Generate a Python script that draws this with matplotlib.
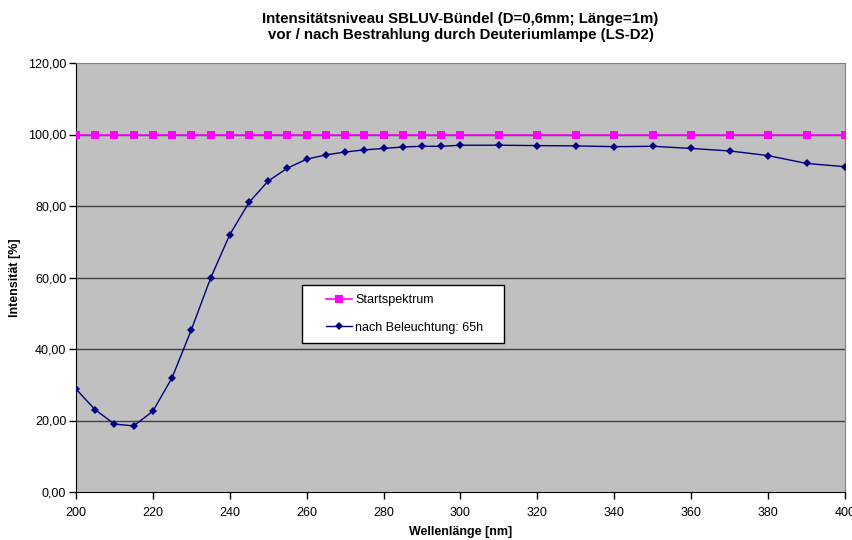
import numpy as np
import matplotlib.pyplot as plt
from matplotlib.patches import Rectangle
from matplotlib.ticker import FuncFormatter

plt.rcParams['font.family'] = ['Liberation Sans', 'DejaVu Sans']

# Daten
wellenlaenge = [200, 205, 210, 215, 220, 225, 230, 235, 240, 245, 250,
                255, 260, 265, 270, 275, 280, 285, 290, 295, 300,
                310, 320, 330, 340, 350, 360, 370, 380, 390, 400]
startspektrum = [100.0] * len(wellenlaenge)
nach_65h = [28.8, 23.0, 19.0, 18.5, 22.6, 32.0, 45.4, 59.8, 72.0, 81.0, 87.0,
            90.6, 93.1, 94.3, 95.1, 95.7, 96.1, 96.5, 96.7, 96.7, 97.0,
            97.0, 96.9, 96.8, 96.6, 96.7, 96.1, 95.4, 94.1, 91.9, 91.0]

fig = plt.figure(figsize=(8.53, 5.40), dpi=100)
ax = fig.add_axes([76/853, 1 - 492/540, 769/853, 429/540])
ax.set_facecolor('#C0C0C0')

for yv in range(20, 120, 20):
    ax.axhline(yv, color='#404040', lw=1.0, zorder=1)

ax.plot(wellenlaenge, startspektrum, color='#FF00FF', lw=1.2, marker='s',
        markersize=5.5, markeredgewidth=0, label='Startspektrum', zorder=3)
ax.plot(wellenlaenge, nach_65h, color='#000080', lw=1.0, marker='D',
        markersize=4.5, markeredgewidth=0, label='nach Beleuchtung: 65h', zorder=3)

ax.set_xlim(200, 400)
ax.set_ylim(0, 120)
ax.set_xticks(range(200, 401, 20))
ax.set_yticks(range(0, 121, 20))
ax.yaxis.set_major_formatter(FuncFormatter(lambda v, p: f'{v:.2f}'.replace('.', ',')))
ax.tick_params(labelsize=9, length=5, width=1, direction='out')
ax.tick_params(axis='x', pad=6)
ax.tick_params(axis='y', pad=2)

ax.spines['left'].set_color('black')
ax.spines['bottom'].set_color('black')
ax.spines['top'].set_color('#808080')
ax.spines['right'].set_color('#808080')

ax.set_xlabel('Wellenlänge [nm]', fontsize=9, fontweight='bold', labelpad=5)
ax.set_ylabel('Intensität [%]', fontsize=9, fontweight='bold', labelpad=5)

fig.text(0.5 * (76 + 845) / 853, 1 - 27/540,
         'Intensitätsniveau SBLUV-Bündel (D=0,6mm; Länge=1m)\n'
         'vor / nach Bestrahlung durch Deuteriumlampe (LS-D2)',
         ha='center', va='center', fontsize=10.8, fontweight='bold', linespacing=1.2)

# Legendenrahmen separat, damit die Einträge frei positioniert werden können
box = Rectangle((0.294, 0.347), 0.263, 0.135, transform=ax.transAxes,
                facecolor='white', edgecolor='black', lw=1.0, zorder=4)
ax.add_patch(box)
leg = ax.legend(loc='center left', bbox_to_anchor=((326 - 76) / 769, 0.415),
                fontsize=9, frameon=False, borderpad=0, borderaxespad=0,
                handlelength=2.1, handletextpad=0.25, labelspacing=1.25)
leg.set_zorder(5)

plt.savefig('out.png', dpi=100)
